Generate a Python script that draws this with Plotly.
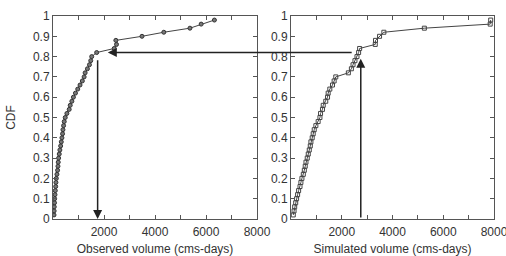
import plotly.graph_objects as go

cdf = [round(0.02 * i, 2) for i in range(1, 50)]
observed = [40, 45, 50, 60, 65, 78, 90, 105, 115, 130, 155, 180, 195, 205, 220, 245, 270, 300,
            325, 350, 375, 390, 415, 440, 480, 545, 635, 675, 740, 800, 880, 970, 1060, 1150,
            1220, 1260, 1350, 1430, 1480, 1518, 1712, 2400, 2490, 2465, 3490, 4345, 5370, 5810, 6330]
simulated = [90, 120, 145, 185, 220, 260, 300, 355, 390, 430, 485, 525, 560, 590, 640, 680, 720,
             760, 785, 835, 875, 915, 980, 1070, 1140, 1165, 1240, 1270, 1370, 1440, 1465, 1530,
             1635, 1700, 1765, 2260, 2380, 2445, 2520, 2600, 2665, 2705, 3320, 3330, 3490, 3660,
             5255, 7850, 7870]
y_ticks = [round(0.1 * i, 1) for i in range(11)]
y_labels = ["0", "0.1", "0.2", "0.3", "0.4", "0.5", "0.6", "0.7", "0.8", "0.9", "1"]
x_ticks = [2000, 4000, 6000, 8000]
obs_mark, sim_mark = 1750, 2750
level = 0.82
obs_head, sim_tail = 2150, 2450

W, H = 506, 256
ml, mr, mt, mb = 53, 12, 16, 37
pw = W - ml - mr
domL = [0, (257 - ml) / pw]
domR = [(291 - ml) / pw, 1]
xr = [0, 8000]

fig = go.Figure()
fig.add_trace(go.Scatter(x=observed, y=cdf, mode="lines+markers", xaxis="x", yaxis="y",
                         line=dict(color="#444", width=1),
                         marker=dict(symbol="circle", size=4, color="#777",
                                     line=dict(color="#333", width=1))))
fig.add_trace(go.Scatter(x=simulated, y=cdf, mode="lines+markers", xaxis="x2", yaxis="y2",
                         line=dict(color="#444", width=1),
                         marker=dict(symbol="square-open", size=4, color="#444",
                                     line=dict(width=1))))

font = dict(family="Liberation Sans, Arial, sans-serif", size=12, color="#333")
axcommon = dict(range=xr, showline=True, linecolor="#555", linewidth=1, mirror="ticks",
                ticks="inside", ticklen=4, tickcolor="#555", tickvals=x_ticks,
                showgrid=False, zeroline=False, tickfont=font, automargin=False,
                ticklabeloverflow="allow", ticklabelstandoff=2,
                minor=dict(ticks="inside", dtick=1000, ticklen=4, tickcolor="#555"))
aycommon = dict(range=[0, 1], showline=True, linecolor="#555", linewidth=1, mirror="ticks",
                ticks="inside", ticklen=4, tickcolor="#555", tickvals=y_ticks, ticktext=y_labels,
                showgrid=False, zeroline=False, tickfont=font, automargin=False)

fig.update_layout(
    width=W, height=H, margin=dict(l=ml, r=mr, t=mt, b=mb),
    paper_bgcolor="white", plot_bgcolor="white", showlegend=False,
    xaxis=dict(domain=domL, anchor="y",
               title=dict(text="Observed volume (cms-days)", font=font, standoff=8), **axcommon),
    xaxis2=dict(domain=domR, anchor="y2",
                title=dict(text="Simulated volume (cms-days)", font=font, standoff=8), **axcommon),
    yaxis=dict(domain=[0, 1], anchor="x",
               title=dict(text="CDF", font=font, standoff=14), **aycommon),
    yaxis2=dict(domain=[0, 1], anchor="x2", **aycommon),
)

def to_paper(v, dom):
    return dom[0] + (v - xr[0]) / (xr[1] - xr[0]) * (dom[1] - dom[0])

arrow = dict(showarrow=True, arrowhead=2, arrowsize=1.2, arrowwidth=1.5, arrowcolor="#222", text="")
# vertical arrow left panel (down)
fig.add_annotation(x=obs_mark, y=0, xref="x", yref="y", ax=obs_mark, ay=0.79,
                   axref="x", ayref="y", **arrow)
# vertical arrow right panel (up)
fig.add_annotation(x=sim_mark, y=0.79, xref="x2", yref="y2", ax=sim_mark, ay=0,
                   axref="x2", ayref="y2", **arrow)
# horizontal arrow crossing panels
offset = (to_paper(sim_tail, domR) - to_paper(obs_head, domL)) * pw
fig.add_annotation(x=obs_head, y=level, xref="x", yref="y", ax=offset, ay=0,
                   axref="pixel", ayref="pixel", **arrow)

fig.write_html("out.html")
